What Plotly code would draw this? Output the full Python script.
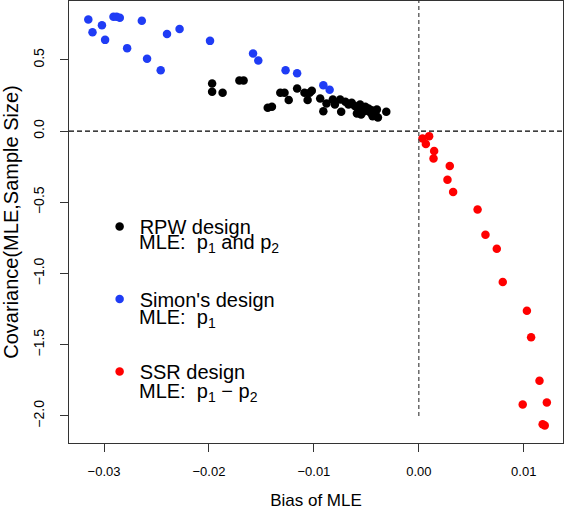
import plotly.graph_objects as go

# Simon's design (blue)
simon_bias = [-0.0315, -0.0311, -0.0302, -0.0299, -0.0291, -0.0288, -0.0285, -0.0278, -0.0264, -0.0259,
              -0.0246, -0.0240, -0.0228, -0.0199, -0.0158, -0.0153, -0.0127, -0.0116, -0.0091, -0.0085]
simon_cov = [0.784, 0.695, 0.744, 0.641, 0.803, 0.803, 0.796, 0.583, 0.775, 0.508,
             0.428, 0.683, 0.718, 0.634, 0.546, 0.496, 0.428, 0.407, 0.323, 0.290]

# RPW design (black)
rpw_bias = [-0.0197, -0.0197, -0.0187, -0.0171, -0.0167, -0.0144, -0.0140, -0.0132, -0.0128, -0.0124,
            -0.0116, -0.0109, -0.0104, -0.0106, -0.0102, -0.0094, -0.0091, -0.0088, -0.0082, -0.0080,
            -0.0075, -0.0074, -0.0070, -0.0067, -0.0064, -0.0061, -0.0059, -0.0056, -0.0055, -0.0051,
            -0.0048, -0.0045, -0.0044, -0.0042, -0.0040, -0.0039, -0.0031, -0.0046, -0.0041, -0.0058,
            -0.0052, -0.0043]
rpw_cov = [0.335, 0.276, 0.269, 0.356, 0.356, 0.164, 0.171, 0.269, 0.269, 0.218,
           0.300, 0.269, 0.269, 0.218, 0.283, 0.229, 0.140, 0.194, 0.222, 0.187,
           0.222, 0.136, 0.206, 0.187, 0.199, 0.176, 0.124, 0.187, 0.117, 0.171,
           0.159, 0.147, 0.105, 0.124, 0.152, 0.096, 0.136, 0.130, 0.112, 0.160,
           0.140, 0.118]

# SSR design (red)
ssr_bias = [0.00035, 0.00098, 0.00067, 0.00146, 0.0014, 0.00295, 0.00273, 0.00327, 0.0056, 0.00635,
            0.00743, 0.0080, 0.0103, 0.0107, 0.0115, 0.0099, 0.0122, 0.0118, 0.0120]
ssr_cov = [-0.051, -0.035, -0.091, -0.140, -0.192, -0.244, -0.342, -0.428, -0.550, -0.728,
           -0.826, -1.060, -1.262, -1.447, -1.753, -1.919, -1.905, -2.058, -2.067]

x_ticks = [-0.03, -0.02, -0.01, 0.0, 0.01]
x_ticktext = ["\u22120.03", "\u22120.02", "\u22120.01", "0.00", "0.01"]
y_ticks = [-2.0, -1.5, -1.0, -0.5, 0.0, 0.5]
y_ticktext = ["\u22122.0", "\u22121.5", "\u22121.0", "\u22120.5", "0.0", "0.5"]

design_names = ["RPW design", "Simon's design", "SSR design"]
NB = "\u00a0"
mle_labels = ["MLE:" + NB + " p<sub>1</sub> and p<sub>2</sub>",
              "MLE:" + NB + " p<sub>1</sub>",
              "MLE:" + NB + " p<sub>1</sub> \u2212 p<sub>2</sub>"]

x_range = [-0.03334, 0.01374]
y_range = [-2.190, 0.914]

FONT = "Liberation Sans, Arial, Helvetica, sans-serif"
LEG_SIZE = 20

fig = go.Figure()
fig.add_trace(go.Scatter(x=rpw_bias, y=rpw_cov, mode="markers", legendgroup="a",
                         marker=dict(color="black", size=8.5), name=design_names[0]))
fig.add_trace(go.Scatter(x=simon_bias, y=simon_cov, mode="markers", legendgroup="b",
                         marker=dict(color="#1f3cf5", size=8.5), name=design_names[1]))
fig.add_trace(go.Scatter(x=ssr_bias, y=ssr_cov, mode="markers", legendgroup="c",
                         marker=dict(color="#ff0000", size=8.5), name=design_names[2]))

fig.add_shape(type="line", xref="paper", yref="y", x0=0, x1=1, y0=0, y1=0,
              line=dict(color="black", width=1.2, dash="5px,3px"))
fig.add_shape(type="line", xref="x", yref="y", x0=0, x1=0, y0=-2.0, y1=y_range[1],
              line=dict(color="#444444", width=1.2, dash="4px,3px"))

# second lines of legend entries
mle_y = [0.4505, 0.2810, 0.1140]
for txt, yy in zip(mle_labels, mle_y):
    fig.add_annotation(text=txt, xref="paper", yref="paper", x=0.138, y=yy,
                       xanchor="left", yanchor="middle", showarrow=False,
                       font=dict(size=LEG_SIZE, family=FONT, color="black"))

fig.update_layout(
    width=567, height=510,
    margin=dict(l=69, r=4, t=1, b=67),
    plot_bgcolor="white", paper_bgcolor="white",
    font=dict(family=FONT, color="black", size=13),
    showlegend=True,
    legend=dict(x=0.062, y=0.534, xanchor="left", yanchor="top",
                bgcolor="rgba(0,0,0,0)", font=dict(size=LEG_SIZE, family=FONT),
                valign="middle", tracegroupgap=43.5, itemwidth=30, traceorder="grouped"),
    xaxis=dict(range=x_range, tickvals=x_ticks, ticktext=x_ticktext, automargin=False,
               showgrid=False, zeroline=False, showline=True, mirror=True,
               linecolor="#333333", linewidth=1.2, ticks="outside", ticklen=8,
               tickcolor="#333333", tickwidth=1.2, ticklabelstandoff=8,
               tickfont=dict(size=13),
               title=dict(text="Bias of MLE", font=dict(size=17), standoff=17)),
    yaxis=dict(range=y_range, tickvals=y_ticks, ticktext=y_ticktext, automargin=False,
               showgrid=False, zeroline=False, showline=True, mirror=True,
               linecolor="#333333", linewidth=1.2, ticks="outside", ticklen=8,
               tickcolor="#333333", tickwidth=1.2, tickangle=-90, ticklabelstandoff=10,
               tickfont=dict(size=14),
               title=dict(text="Covariance(MLE,Sample Size)", font=dict(size=20), standoff=15)),
)

fig.write_html("out.html", config={"displayModeBar": False},
               post_script="document.body.style.margin='0';")
